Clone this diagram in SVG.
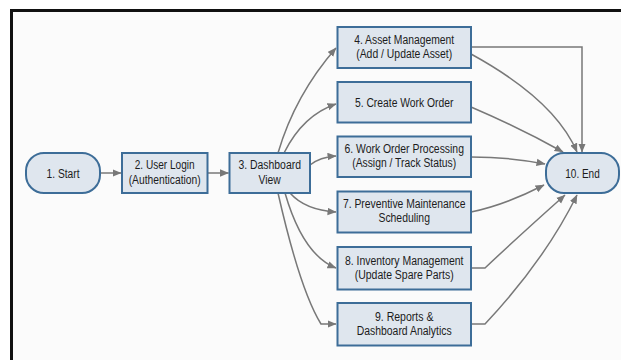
<svg xmlns="http://www.w3.org/2000/svg" width="621" height="360" viewBox="0 0 621 360">
<defs>
<marker id="ah" markerUnits="userSpaceOnUse" markerWidth="10" markerHeight="9" refX="8.5" refY="4" orient="auto">
<path d="M0,0.3 L9,4 L0,7.7 z" fill="#787878"/>
</marker>
<style>
.box{fill:#dfe6ee;stroke:#3d6d98;stroke-width:2}
.t{font-family:"Liberation Sans",Arial,sans-serif;font-size:12px;fill:#1c1c1c;text-anchor:middle}
.c{fill:none;stroke:#787878;stroke-width:1.5;marker-end:url(#ah)}
</style>
</defs>
<rect x="0" y="0" width="621" height="360" fill="#ffffff"/>
<rect x="11" y="10" width="610" height="350" fill="#fbfbfb"/>
<path d="M11.5 360 V10.5 H621" fill="none" stroke="#111" stroke-width="3"/>

<g id="connectors">
<path class="c" d="M100 173 L121 173"/>
<path class="c" d="M207.5 173 L228.5 173"/>
<path class="c" d="M278 153 Q295 95 336 48"/>
<path class="c" d="M284 153 Q303 115 336 104"/>
<path class="c" d="M310 165 Q320 157 336 156"/>
<path class="c" d="M290 193 Q305 210 336 212"/>
<path class="c" d="M285 193 Q303 255 336 268"/>
<path class="c" d="M278 193 Q300 290 321 324 L336 324"/>
<path class="c" d="M471 47 L582 47 L582 152"/>
<path class="c" d="M471 54 Q555 100 577 152"/>
<path class="c" d="M471 107 Q520 128 563 152"/>
<path class="c" d="M471 157 Q510 157 545 164"/>
<path class="c" d="M471 212 Q505 205 544 185"/>
<path class="c" d="M471 268 L485 268 Q520 235 565 195"/>
<path class="c" d="M471 324 L485 324 Q545 260 577 195"/>
</g>

<g id="n1"><rect class="box" x="26" y="153" width="74" height="40" rx="18"/><text class="t" x="63" y="177.5" textLength="33" lengthAdjust="spacingAndGlyphs">1. Start</text></g>
<g id="n2"><rect class="box" x="122" y="153" width="85.5" height="40"/><text class="t" x="164.7" y="169" textLength="60" lengthAdjust="spacingAndGlyphs">2. User Login</text><text class="t" x="164.7" y="183.5" textLength="72" lengthAdjust="spacingAndGlyphs">(Authentication)</text></g>
<g id="n3"><rect class="box" x="229.5" y="153" width="80.5" height="40"/><text class="t" x="269.7" y="169" textLength="62.6" lengthAdjust="spacingAndGlyphs">3. Dashboard</text><text class="t" x="269.7" y="183.5" textLength="22.2" lengthAdjust="spacingAndGlyphs">View</text></g>
<g id="n4"><rect class="box" x="337.5" y="27" width="133.5" height="41"/><text class="t" x="404.2" y="43.5" textLength="100" lengthAdjust="spacingAndGlyphs">4. Asset Management</text><text class="t" x="404.2" y="57.5" textLength="96" lengthAdjust="spacingAndGlyphs">(Add / Update Asset)</text></g>
<g id="n5"><rect class="box" x="337.5" y="82" width="133.5" height="40.5"/><text class="t" x="404.2" y="106.5" textLength="98.5" lengthAdjust="spacingAndGlyphs">5. Create Work Order</text></g>
<g id="n6"><rect class="box" x="337.5" y="136.5" width="133.5" height="40.5"/><text class="t" x="404.2" y="152.5" textLength="119.5" lengthAdjust="spacingAndGlyphs">6. Work Order Processing</text><text class="t" x="404.2" y="166.5" textLength="104" lengthAdjust="spacingAndGlyphs">(Assign / Track Status)</text></g>
<g id="n7"><rect class="box" x="337.5" y="191.5" width="133.5" height="41"/><text class="t" x="404.2" y="208" textLength="122.5" lengthAdjust="spacingAndGlyphs">7. Preventive Maintenance</text><text class="t" x="404.2" y="222" textLength="51.5" lengthAdjust="spacingAndGlyphs">Scheduling</text></g>
<g id="n8"><rect class="box" x="337.5" y="247" width="133.5" height="42.5"/><text class="t" x="404.2" y="264.5" textLength="118.5" lengthAdjust="spacingAndGlyphs">8. Inventory Management</text><text class="t" x="404.2" y="278.5" textLength="99" lengthAdjust="spacingAndGlyphs">(Update Spare Parts)</text></g>
<g id="n9"><rect class="box" x="337.5" y="303" width="133.5" height="42.5"/><text class="t" x="404.2" y="320.5" textLength="58.5" lengthAdjust="spacingAndGlyphs">9. Reports &amp;</text><text class="t" x="404.2" y="334.5" textLength="95" lengthAdjust="spacingAndGlyphs">Dashboard Analytics</text></g>
<g id="n10"><rect class="box" x="546" y="153" width="73" height="40" rx="18"/><text class="t" x="582.5" y="177.5" textLength="34.5" lengthAdjust="spacingAndGlyphs">10. End</text></g>
</svg>
